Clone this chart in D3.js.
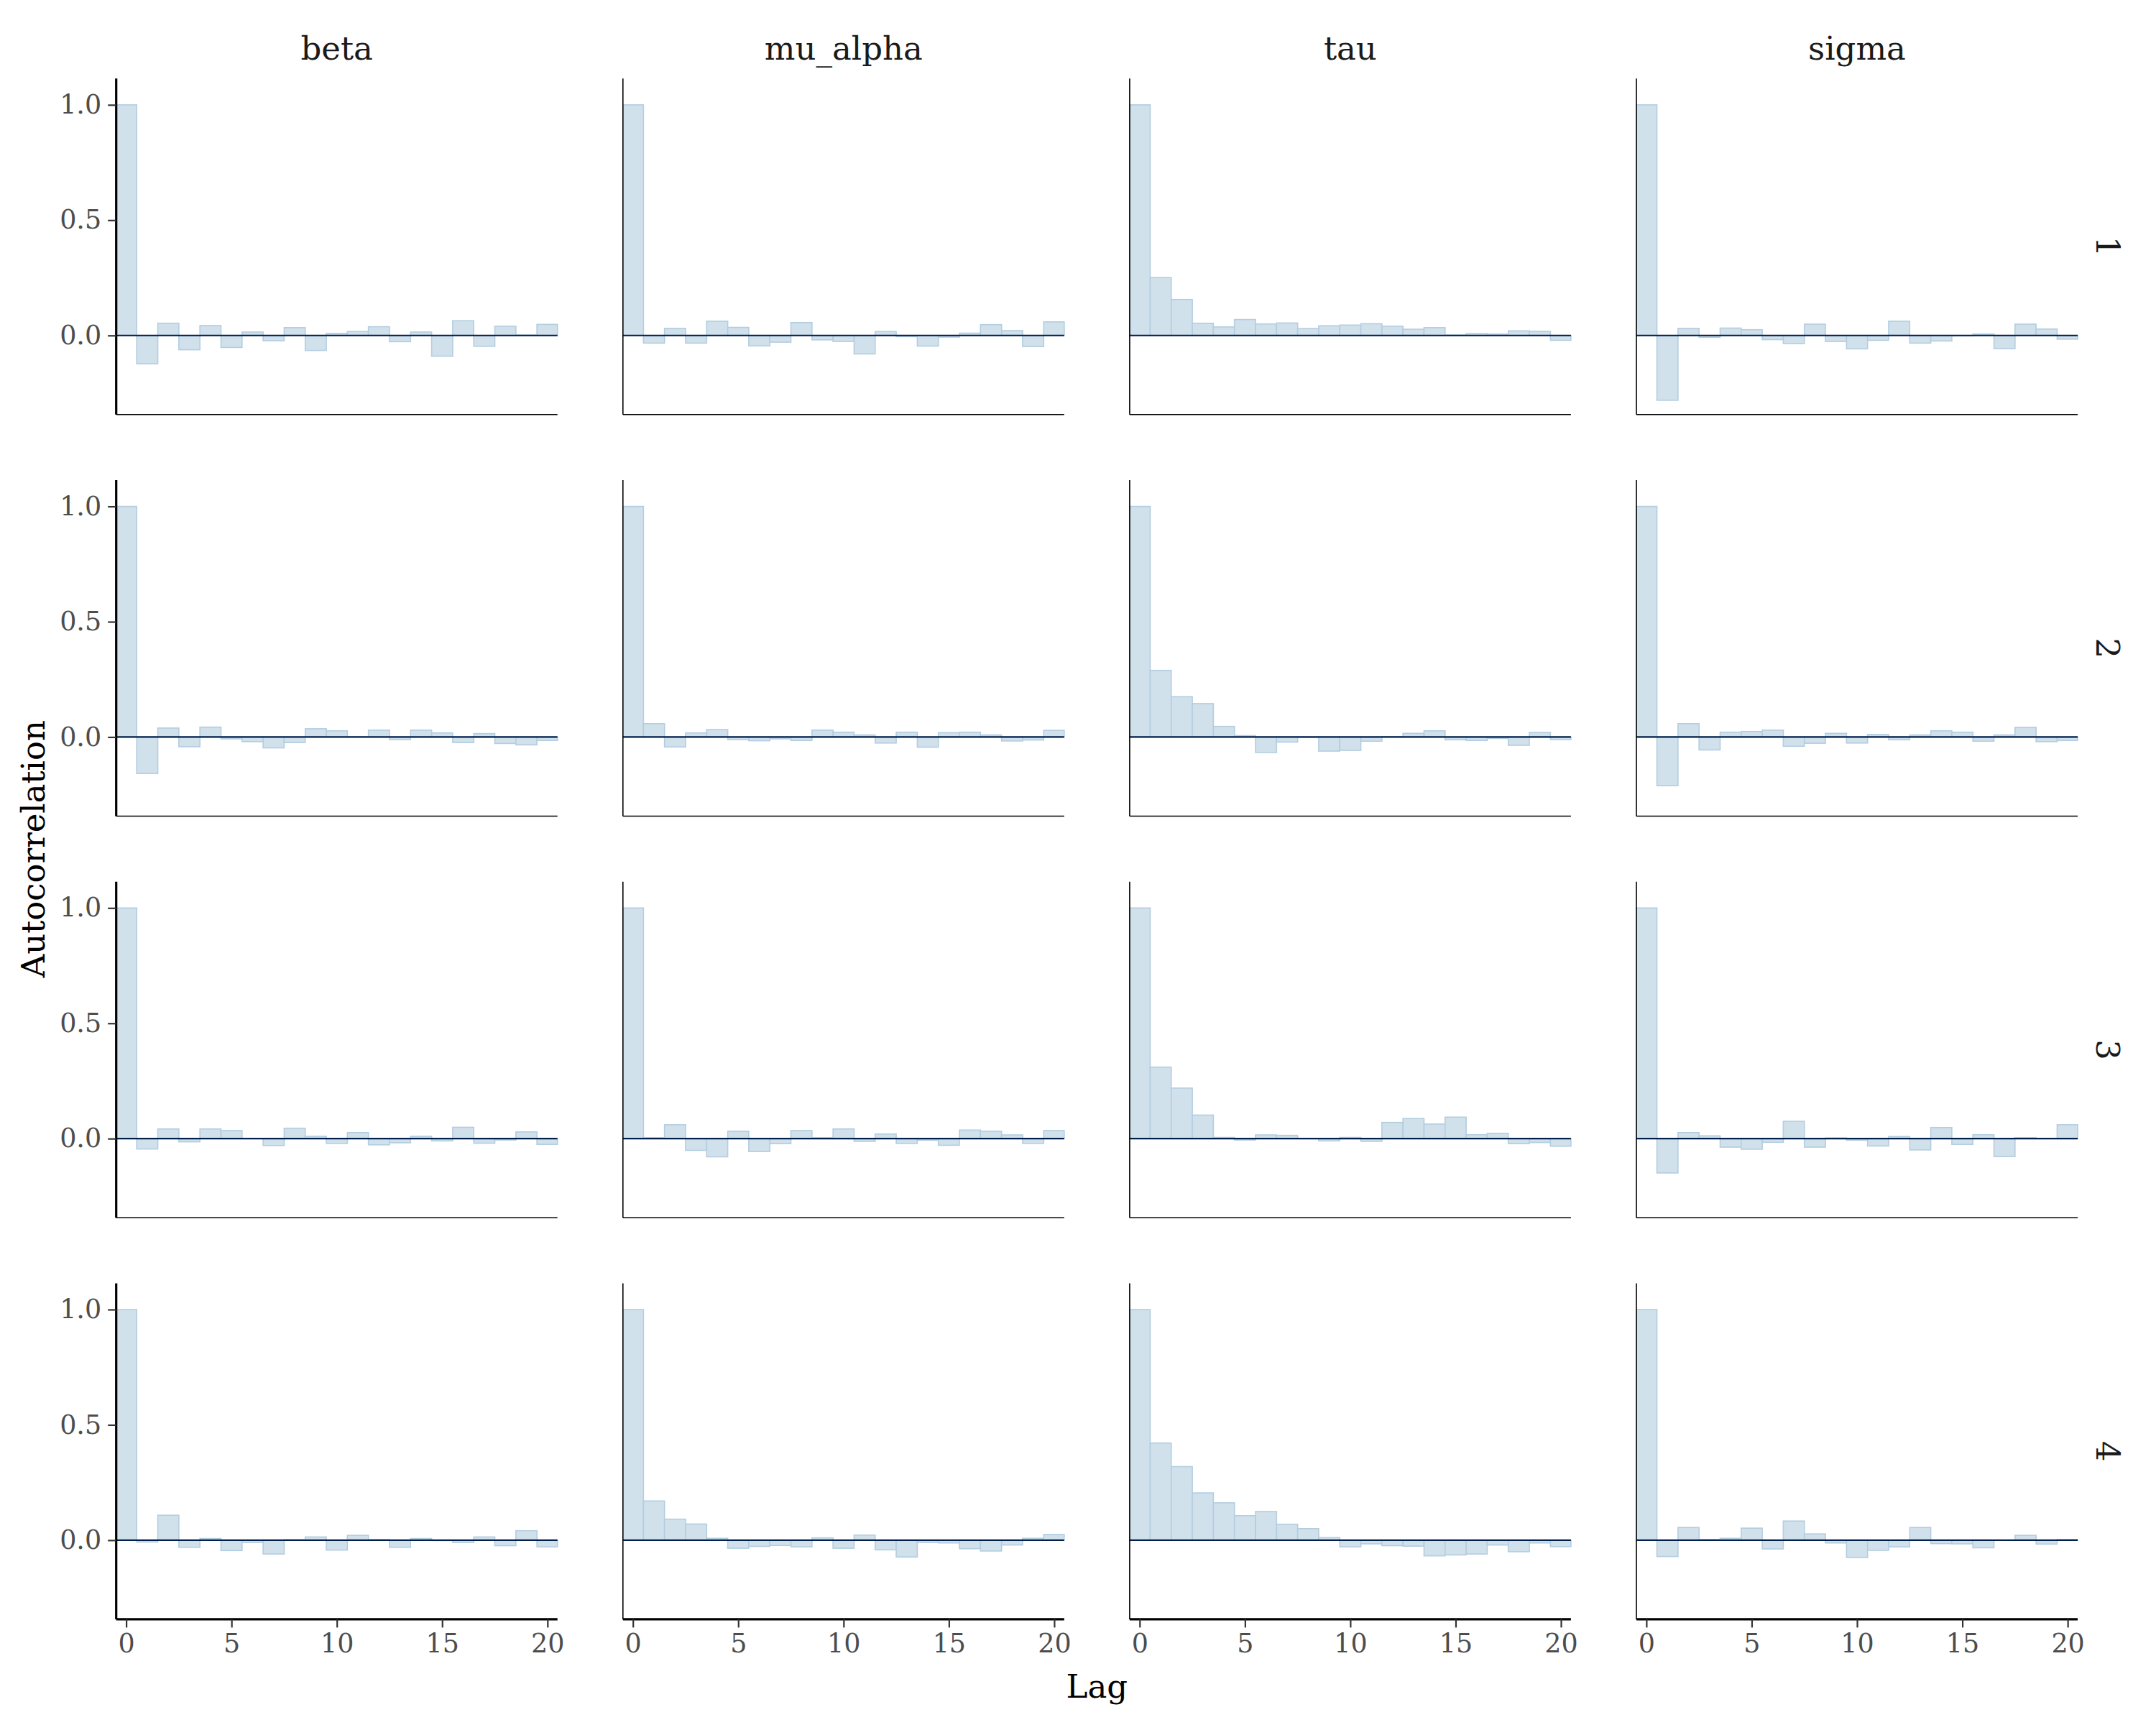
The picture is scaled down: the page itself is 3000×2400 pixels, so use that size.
<!DOCTYPE html>
<html>
<head>
<meta charset="utf-8">
<script src="https://cdn.jsdelivr.net/npm/d3@7/dist/d3.min.js"></script>
<style>
  html, body { margin: 0; padding: 0; background: #ffffff; }
  svg { display: block; }
</style>
</head>
<body>
<script>
// ---------------- DATA ----------------
const params = ["beta", "mu_alpha", "tau", "sigma"];
const chains = ["1", "2", "3", "4"];
const lags = d3.range(0, 21);
const xTicks = [0, 5, 10, 15, 20];
const yTicks = [0.0, 0.5, 1.0];

// autocorrelation per chain (rows = chain 1..4), per lag 0..20
const acfBeta = [
  [1.0, -0.123, 0.053, -0.062, 0.043, -0.052, 0.015, -0.023, 0.034, -0.065, 0.009, 0.017, 0.038, -0.027, 0.015, -0.090, 0.064, -0.047, 0.040, 0.002, 0.048],
  [1.0, -0.158, 0.039, -0.042, 0.043, -0.008, -0.020, -0.047, -0.024, 0.036, 0.027, 0.001, 0.030, -0.011, 0.030, 0.018, -0.024, 0.015, -0.028, -0.034, -0.015],
  [1.0, -0.045, 0.042, -0.014, 0.042, 0.035, 0.000, -0.030, 0.045, 0.010, -0.021, 0.026, -0.027, -0.018, 0.010, -0.010, 0.049, -0.020, -0.006, 0.029, -0.025],
  [1.0, -0.008, 0.108, -0.031, 0.007, -0.045, -0.010, -0.060, 0.002, 0.014, -0.043, 0.021, 0.003, -0.031, 0.007, -0.002, -0.010, 0.014, -0.024, 0.041, -0.029]
];
const acfMuAlpha = [
  [1.0, -0.033, 0.031, -0.033, 0.062, 0.035, -0.045, -0.029, 0.056, -0.019, -0.026, -0.080, 0.017, -0.005, -0.046, -0.007, 0.010, 0.047, 0.021, -0.048, 0.059],
  [1.0, 0.058, -0.043, 0.018, 0.032, -0.011, -0.016, -0.008, -0.015, 0.030, 0.021, 0.009, -0.026, 0.021, -0.044, 0.019, 0.021, 0.009, -0.017, -0.013, 0.029],
  [1.0, 0.004, 0.060, -0.051, -0.079, 0.032, -0.056, -0.022, 0.035, 0.004, 0.042, -0.012, 0.020, -0.021, -0.007, -0.029, 0.037, 0.032, 0.016, -0.021, 0.035],
  [1.0, 0.170, 0.091, 0.070, 0.008, -0.035, -0.027, -0.023, -0.029, 0.010, -0.035, 0.022, -0.042, -0.073, -0.010, -0.012, -0.037, -0.047, -0.021, 0.008, 0.025]
];
const acfTau = [
  [1.0, 0.251, 0.156, 0.053, 0.037, 0.069, 0.050, 0.054, 0.030, 0.042, 0.045, 0.051, 0.040, 0.027, 0.034, 0.002, 0.008, 0.006, 0.020, 0.018, -0.021],
  [1.0, 0.289, 0.175, 0.145, 0.046, 0.006, -0.067, -0.022, -0.002, -0.061, -0.058, -0.018, 0.002, 0.016, 0.027, -0.012, -0.015, -0.006, -0.036, 0.020, -0.011],
  [1.0, 0.310, 0.219, 0.102, 0.005, -0.006, 0.016, 0.014, 0.001, -0.010, 0.005, -0.012, 0.070, 0.087, 0.063, 0.093, 0.017, 0.023, -0.022, -0.017, -0.033],
  [1.0, 0.421, 0.319, 0.205, 0.162, 0.106, 0.124, 0.069, 0.050, 0.011, -0.029, -0.016, -0.024, -0.026, -0.068, -0.064, -0.060, -0.021, -0.050, -0.012, -0.028]
];
const acfSigma = [
  [1.0, -0.281, 0.031, -0.008, 0.032, 0.025, -0.018, -0.035, 0.049, -0.026, -0.058, -0.021, 0.062, -0.033, -0.024, -0.002, 0.006, -0.057, 0.049, 0.028, -0.016],
  [1.0, -0.211, 0.058, -0.056, 0.021, 0.024, 0.030, -0.040, -0.027, 0.016, -0.026, 0.011, -0.012, 0.009, 0.027, 0.021, -0.018, 0.009, 0.042, -0.020, -0.015],
  [1.0, -0.149, 0.026, 0.012, -0.037, -0.046, -0.016, 0.075, -0.037, 0.003, -0.007, -0.032, 0.009, -0.049, 0.048, -0.025, 0.017, -0.078, 0.004, 0.000, 0.060],
  [1.0, -0.071, 0.055, 0.003, 0.008, 0.052, -0.038, 0.083, 0.027, -0.012, -0.075, -0.044, -0.029, 0.055, -0.015, -0.016, -0.033, 0.000, 0.021, -0.017, 0.003]
];
const acfByParam = { beta: acfBeta, mu_alpha: acfMuAlpha, tau: acfTau, sigma: acfSigma };

// ---------------- LAYOUT ----------------
const W = 3000, H = 2400;
const panelW = 614, panelH = 467.5;
const left0 = 161.7, colStep = 705.1;
const top0 = 109.3, rowStep = 558.7;
const FONT = "'DejaVu Serif', 'Liberation Serif', serif";

const fillCol = "#d1e1ec", strokeCol = "#b3cde0", zeroCol = "#011f4b";

const svg = d3.select("body").append("svg")
  .attr("width", W).attr("height", H)
  .attr("viewBox", `0 0 ${W} ${H}`);
svg.append("rect").attr("width", W).attr("height", H).attr("fill", "#fff");

const x = d3.scaleLinear().domain([-0.474, 20.474]).range([0, panelW]).clamp(true);
const y = d3.scaleLinear().domain([-0.343, 1.114]).range([panelH, 0]);

chains.forEach((ch, r) => {
  params.forEach((p, c) => {
    const g = svg.append("g")
      .attr("transform", `translate(${left0 + c * colStep},${top0 + r * rowStep})`);
    const vals = acfByParam[p][r];
    const data = lags.map((l, i) => ({ lag: l, v: vals[i] }));

    // bars
    g.selectAll("rect.bar").data(data).enter().append("rect")
      .attr("class", "bar")
      .attr("x", d => x(d.lag - 0.5))
      .attr("width", d => x(d.lag + 0.5) - x(d.lag - 0.5))
      .attr("y", d => y(Math.max(0, d.v)))
      .attr("height", d => Math.abs(y(d.v) - y(0)))
      .attr("fill", fillCol)
      .attr("stroke", strokeCol)
      .attr("stroke-width", 1.6);

    // zero line
    g.append("line")
      .attr("x1", 0).attr("x2", panelW)
      .attr("y1", y(0)).attr("y2", y(0))
      .attr("stroke", zeroCol).attr("stroke-width", 2.2);

    // left axis line
    const outerLeft = c === 0;
    g.append("line")
      .attr("x1", 0).attr("x2", 0).attr("y1", 0).attr("y2", panelH)
      .attr("stroke", "#000").attr("stroke-width", outerLeft ? 3.2 : 1.6);
    // bottom axis line
    const outerBottom = r === chains.length - 1;
    g.append("line")
      .attr("x1", 0).attr("x2", panelW).attr("y1", panelH).attr("y2", panelH)
      .attr("stroke", "#000").attr("stroke-width", outerBottom ? 3.2 : 1.6);

    if (outerLeft) {
      const ay = g.append("g").call(
        d3.axisLeft(y).tickValues(yTicks).tickFormat(d3.format(".1f")).tickSize(11.5).tickPadding(9)
      );
      ay.select(".domain").remove();
      ay.selectAll(".tick line").attr("stroke", "#333").attr("stroke-width", 2.2);
      ay.selectAll(".tick text").attr("fill", "#4d4d4d")
        .style("font-family", FONT).style("font-size", "36.5px");
    }
    if (outerBottom) {
      const ax = g.append("g").attr("transform", `translate(0,${panelH})`).call(
        d3.axisBottom(x).tickValues(xTicks).tickFormat(d3.format("d")).tickSize(11.5).tickPadding(9)
      );
      ax.select(".domain").remove();
      ax.selectAll(".tick line").attr("stroke", "#333").attr("stroke-width", 2.2);
      ax.selectAll(".tick text").attr("fill", "#4d4d4d")
        .style("font-family", FONT).style("font-size", "36.5px");
    }

    // top strip labels
    if (r === 0) {
      g.append("text")
        .attr("x", panelW / 2).attr("y", -26)
        .attr("text-anchor", "middle")
        .attr("fill", "#1a1a1a")
        .style("font-family", FONT).style("font-size", "45px")
        .text(p);
    }
    // right strip labels
    if (c === params.length - 1) {
      g.append("text")
        .attr("transform", `translate(${panelW + 26},${panelH / 2}) rotate(90)`)
        .attr("text-anchor", "middle")
        .attr("fill", "#1a1a1a")
        .style("font-family", FONT).style("font-size", "45px")
        .text(ch);
    }
  });
});

// axis titles
const plotLeft = left0, plotRight = left0 + 3 * colStep + panelW;
const plotTop = top0, plotBottom = top0 + 3 * rowStep + panelH;
svg.append("text")
  .attr("x", (plotLeft + plotRight) / 2).attr("y", 2362)
  .attr("text-anchor", "middle").attr("fill", "#000")
  .style("font-family", FONT).style("font-size", "45px")
  .text("Lag");
svg.append("text")
  .attr("transform", `translate(62,${(plotTop + plotBottom) / 2}) rotate(-90)`)
  .attr("text-anchor", "middle").attr("fill", "#000")
  .style("font-family", FONT).style("font-size", "45px")
  .text("Autocorrelation");
</script>
</body>
</html>
